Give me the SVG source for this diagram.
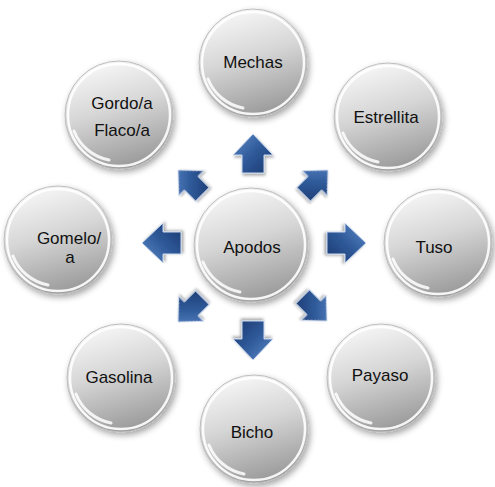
<svg xmlns="http://www.w3.org/2000/svg" width="495" height="487" viewBox="0 0 495 487">
<defs>
<linearGradient id="ballG" x1="0.3" y1="0" x2="0.6" y2="1">
<stop offset="0" stop-color="#f8f8f8"/>
<stop offset="0.45" stop-color="#d6d6d6"/>
<stop offset="1" stop-color="#989898"/>
</linearGradient>
<linearGradient id="arrG" x1="0" y1="0" x2="1" y2="1">
<stop offset="0" stop-color="#5f8bcb"/>
<stop offset="0.5" stop-color="#2f5a99"/>
<stop offset="1" stop-color="#1a386f"/>
</linearGradient>
<filter id="sh" x="-20%" y="-20%" width="150%" height="150%">
<feDropShadow dx="2" dy="3" stdDeviation="3" flood-color="#000" flood-opacity="0.35"/>
</filter>
<filter id="ash" x="-30%" y="-30%" width="160%" height="160%">
<feDropShadow dx="1" dy="2" stdDeviation="1.5" flood-color="#000" flood-opacity="0.35"/>
</filter>
<path id="arrow" d="M0,-19 L20,2 L11,2 L11,20 L-11,20 L-11,2 L-20,2 Z"/>
</defs>
<style>
.ball{fill:url(#ballG);stroke:#bdbdbd;stroke-width:1;filter:url(#sh)}
.rim{fill:none;stroke:#ffffff;stroke-width:2.5;opacity:0.9}
.hl{fill:none;stroke:#ffffff;stroke-width:3;stroke-linecap:round;opacity:0.85}
.lbl{font-family:"Liberation Sans",Arial,sans-serif;font-size:17px;fill:#111111;text-anchor:middle}
.arr{fill:url(#arrG);stroke:#c9d8ef;stroke-width:1;filter:url(#ash)}
</style>
<rect width="495" height="487" fill="#ffffff"/>

<g id="connectors">
<use href="#arrow" class="arr" transform="translate(253,153)"/>
<use href="#arrow" class="arr" transform="translate(347,243) rotate(90)"/>
<use href="#arrow" class="arr" transform="translate(253,341) rotate(180)"/>
<use href="#arrow" class="arr" transform="translate(161,243) rotate(-90)"/>
<use href="#arrow" class="arr" transform="translate(316,182) rotate(45) scale(0.88)"/>
<use href="#arrow" class="arr" transform="translate(315,309) rotate(135) scale(0.88)"/>
<use href="#arrow" class="arr" transform="translate(190,310) rotate(-135) scale(0.88)"/>
<use href="#arrow" class="arr" transform="translate(190,182) rotate(-45) scale(0.88)"/>
</g>

<g id="apodos">
<circle class="ball" cx="251" cy="245" r="57"/>
<circle class="rim" cx="251" cy="245" r="54"/>
<path class="hl" d="M203,262 A50,50 0 0 0 240,292"/>
<text class="lbl" x="252" y="253">Apodos</text>
</g>

<g id="mechas">
<circle class="ball" cx="253" cy="63" r="54"/>
<circle class="rim" cx="253" cy="63" r="51"/>
<path class="hl" d="M208,79 A47,47 0 0 0 243,108"/>
<text class="lbl" x="253" y="68">Mechas</text>
</g>

<g id="estrellita">
<circle class="ball" cx="388" cy="117" r="54"/>
<circle class="rim" cx="388" cy="117" r="51"/>
<path class="hl" d="M343,133 A47,47 0 0 0 378,162"/>
<text class="lbl" x="386" y="123">Estrellita</text>
</g>

<g id="tuso">
<circle class="ball" cx="438" cy="243" r="54"/>
<circle class="rim" cx="438" cy="243" r="51"/>
<path class="hl" d="M393,259 A47,47 0 0 0 428,288"/>
<text class="lbl" x="434" y="253">Tuso</text>
</g>

<g id="payaso">
<circle class="ball" cx="381" cy="378" r="54"/>
<circle class="rim" cx="381" cy="378" r="51"/>
<path class="hl" d="M336,394 A47,47 0 0 0 371,423"/>
<text class="lbl" x="380" y="381">Payaso</text>
</g>

<g id="bicho">
<circle class="ball" cx="254" cy="429" r="54"/>
<circle class="rim" cx="254" cy="429" r="51"/>
<path class="hl" d="M209,445 A47,47 0 0 0 244,474"/>
<text class="lbl" x="252" y="438">Bicho</text>
</g>

<g id="gasolina">
<circle class="ball" cx="121" cy="378" r="54"/>
<circle class="rim" cx="121" cy="378" r="51"/>
<path class="hl" d="M76,394 A47,47 0 0 0 111,423"/>
<text class="lbl" x="119" y="383">Gasolina</text>
</g>

<g id="gomelo">
<circle class="ball" cx="58" cy="240" r="54"/>
<circle class="rim" cx="58" cy="240" r="51"/>
<path class="hl" d="M13,256 A47,47 0 0 0 48,285"/>
<text class="lbl" x="69" y="244">Gomelo/</text>
<text class="lbl" x="70" y="263">a</text>
</g>

<g id="gordo">
<circle class="ball" cx="119" cy="115" r="54"/>
<circle class="rim" cx="119" cy="115" r="51"/>
<path class="hl" d="M74,131 A47,47 0 0 0 109,160"/>
<text class="lbl" x="122" y="109">Gordo/a</text>
<text class="lbl" x="122" y="136">Flaco/a</text>
</g>
</svg>
